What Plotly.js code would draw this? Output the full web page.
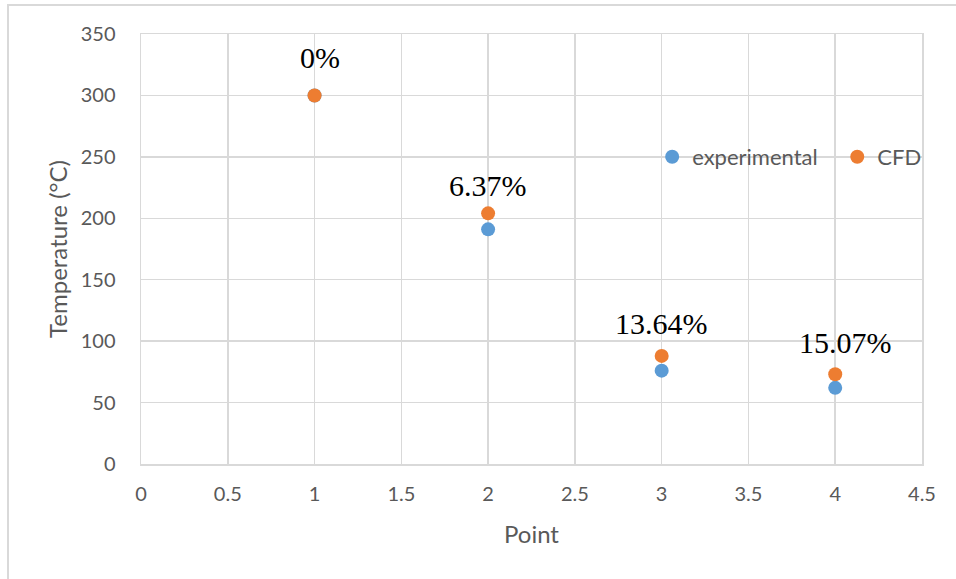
<!DOCTYPE html>
<html>
<head>
<meta charset="utf-8">
<script src="https://cdn.plot.ly/plotly-3.0.1.min.js"></script>
<style>
  html, body { margin: 0; padding: 0; background: #fff; }
  #wrap { position: relative; width: 956px; height: 579px; overflow: hidden; }
  #chart { position: absolute; left: 0; top: 0; width: 956px; height: 579px; }
  .edge { position: absolute; background: #d9d9d9; }
</style>
</head>
<body>
<div id="wrap">
  <div id="chart"></div>
  <div class="edge" style="left:8px; top:4px; width:948px; height:2px;"></div>
  <div class="edge" style="left:7px; top:4px; width:2px; height:575px;"></div>
</div>
<script>
// Measurement points and temperatures (°C)
const points = [1, 2, 3, 4];
const experimental = [300, 191, 76, 62];
const cfd = [300, 204, 88, 73];
const errorLabels = ['0%', '6.37%', '13.64%', '15.07%'];

const blue = '#5b9bd5';
const orange = '#ed7d31';
const grey = '#595959';
const grid = '#d9d9d9';
const uiFont = 'Lato, "Open Sans", sans-serif';

const traces = [
  { x: points, y: experimental, name: 'experimental', type: 'scatter', mode: 'markers',
    marker: { color: blue, size: 14 }, legend: 'legend' },
  { x: points, y: cfd, name: 'CFD', type: 'scatter', mode: 'markers',
    marker: { color: orange, size: 14 }, legend: 'legend2' }
];

// label offsets above each CFD marker
const shiftX = [5, 0, 0, 10];
const shiftY = [38, 28, 32, 32];
const annotations = points.map((p, i) => ({
  x: p, y: cfd[i], xref: 'x', yref: 'y', text: errorLabels[i],
  showarrow: false, xshift: shiftX[i], yshift: shiftY[i],
  font: { family: '"Liberation Serif", "Times New Roman", serif', size: 30, color: '#000' }
}));

const legendStyle = (x) => ({
  orientation: 'h', x: x, xanchor: 'left', y: 0.714, yanchor: 'middle',
  bgcolor: 'rgba(0,0,0,0)', borderwidth: 0, itemwidth: 30,
  font: { family: uiFont, size: 22, color: grey }
});

const layout = {
  width: 956, height: 579,
  margin: { l: 140.5, r: 33.5, t: 34, b: 114.5 },
  paper_bgcolor: '#fff', plot_bgcolor: '#fff',
  font: { family: uiFont, size: 20, color: grey },
  showlegend: true,
  legend: legendStyle(0.6545),
  legend2: legendStyle(0.8915),
  xaxis: {
    range: [0, 4.5], tick0: 0, dtick: 0.5, tickmode: 'linear',
    showgrid: true, gridcolor: grid, gridwidth: 1.5,
    zeroline: false, showline: true, linecolor: grid, linewidth: 1.5, mirror: true,
    ticks: '', ticklabelstandoff: 11,
    tickfont: { family: uiFont, size: 20, color: grey },
    title: { text: 'Point', standoff: 22, font: { family: uiFont, size: 24, color: grey } }
  },
  yaxis: {
    range: [0, 350], tick0: 0, dtick: 50, tickmode: 'linear',
    showgrid: true, gridcolor: grid, gridwidth: 1.5,
    zeroline: false, showline: true, linecolor: grid, linewidth: 1.5, mirror: true,
    ticks: '', ticklabelstandoff: 20,
    tickfont: { family: uiFont, size: 20, color: grey },
    title: { text: 'Temperature (°C)', standoff: 6, font: { family: uiFont, size: 24, color: grey } }
  },
  annotations: annotations
};

Plotly.newPlot('chart', traces, layout, { staticPlot: true, displayModeBar: false });
</script>
</body>
</html>
